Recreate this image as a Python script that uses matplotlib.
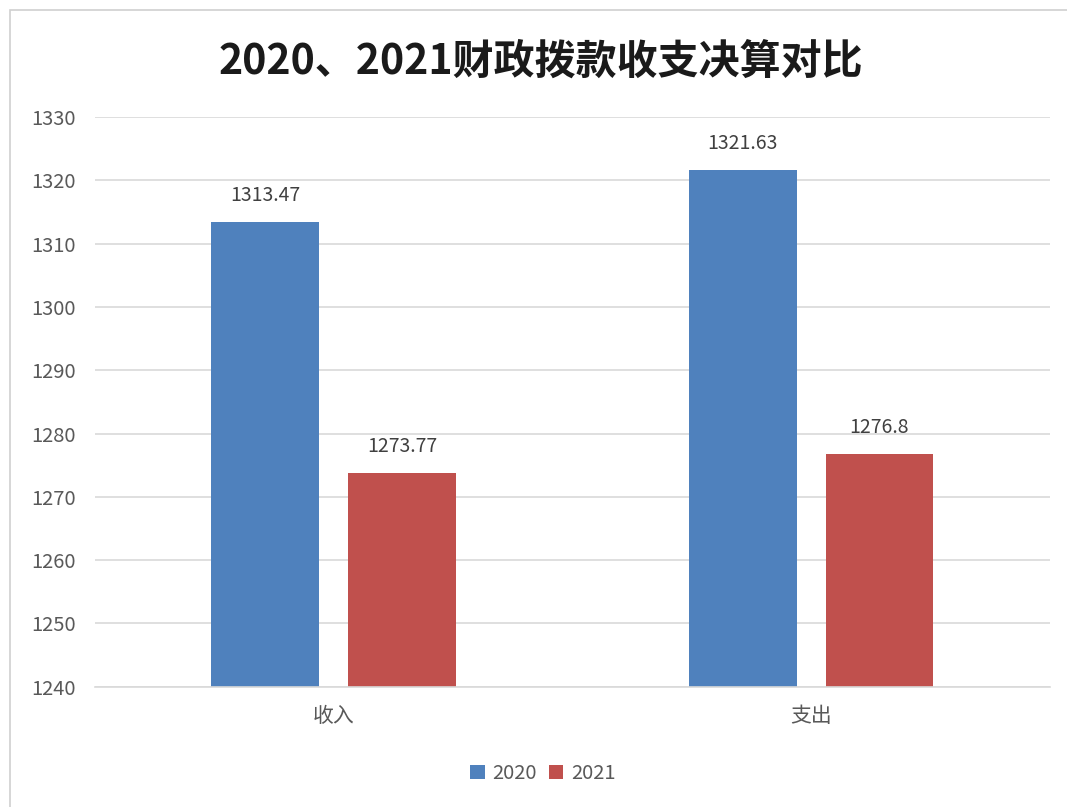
import numpy as np
import matplotlib.pyplot as plt
from matplotlib.patches import Rectangle

plt.rcParams['font.family'] = ['Noto Sans CJK SC', 'DejaVu Sans']

categories = ["收入", "支出"]
series_names = ["2020", "2021"]
values_2020 = [1313.47, 1321.63]
values_2021 = [1273.77, 1276.8]
value_labels_2020 = ["1313.47", "1321.63"]
value_labels_2021 = ["1273.77", "1276.8"]
yticks = [1240, 1250, 1260, 1270, 1280, 1290, 1300, 1310, 1320, 1330]

blue = "#4F81BD"
red = "#C0504D"
text_gray = "#595959"
grid_gray = "#D9D9D9"

fig = plt.figure(figsize=(10.67, 8.07), dpi=100)
ax = fig.add_axes([0.089, 0.149, 0.895, 0.706])

# chart border
fig.patches.append(Rectangle((10 / 1067, -0.01), 1.02, 1 - 10 / 807 + 0.01,
                             transform=fig.transFigure, fill=False,
                             edgecolor="#D0D0D0", linewidth=1.2))

x = np.arange(len(categories))
w = 0.226
off = 0.143
b1 = ax.bar(x - off, np.array(values_2020) - 1240, w, bottom=1240, color=blue, label=series_names[0])
b2 = ax.bar(x + off, np.array(values_2021) - 1240, w, bottom=1240, color=red, label=series_names[1])

for xi, v, s in zip(x - off, values_2020, value_labels_2020):
    ax.text(xi, v + 2.5, s, ha="center", va="bottom", fontsize=14, color="#404040")
for xi, v, s in zip(x + off, values_2021, value_labels_2021):
    ax.text(xi, v + 2.5, s, ha="center", va="bottom", fontsize=14, color="#404040")

ax.set_xlim(-0.5, 1.5)
ax.set_ylim(1240, 1330)
ax.set_yticks(yticks)
ax.set_yticklabels([str(t) for t in yticks], fontsize=14.5, color=text_gray)
ax.set_xticks(x)
ax.set_xticklabels(categories, fontsize=15, color=text_gray)
ax.tick_params(axis="both", length=0)
ax.tick_params(axis="y", pad=14)
ax.tick_params(axis="x", pad=13)
ax.grid(axis="y", color=grid_gray, linewidth=1.2)
ax.set_axisbelow(True)
for sp in ["left", "right", "top"]:
    ax.spines[sp].set_visible(False)
ax.spines["bottom"].set_color(grid_gray)
ax.spines["bottom"].set_linewidth(1.2)

fig.text(0.507, 0.923, "2020、2021财政拨款收支决算对比", ha="center", va="center",
         fontsize=29.5, fontweight="bold", color="#1a1a1a")

fig.legend(handles=[b1, b2], labels=series_names, loc="center", bbox_to_anchor=(0.509, 0.042),
           ncol=2, frameon=False, fontsize=14.5, handlelength=0.7, handleheight=0.7,
           handletextpad=0.4, columnspacing=0.6, labelcolor=text_gray)

fig.savefig("out.png", dpi=100, facecolor="white")
